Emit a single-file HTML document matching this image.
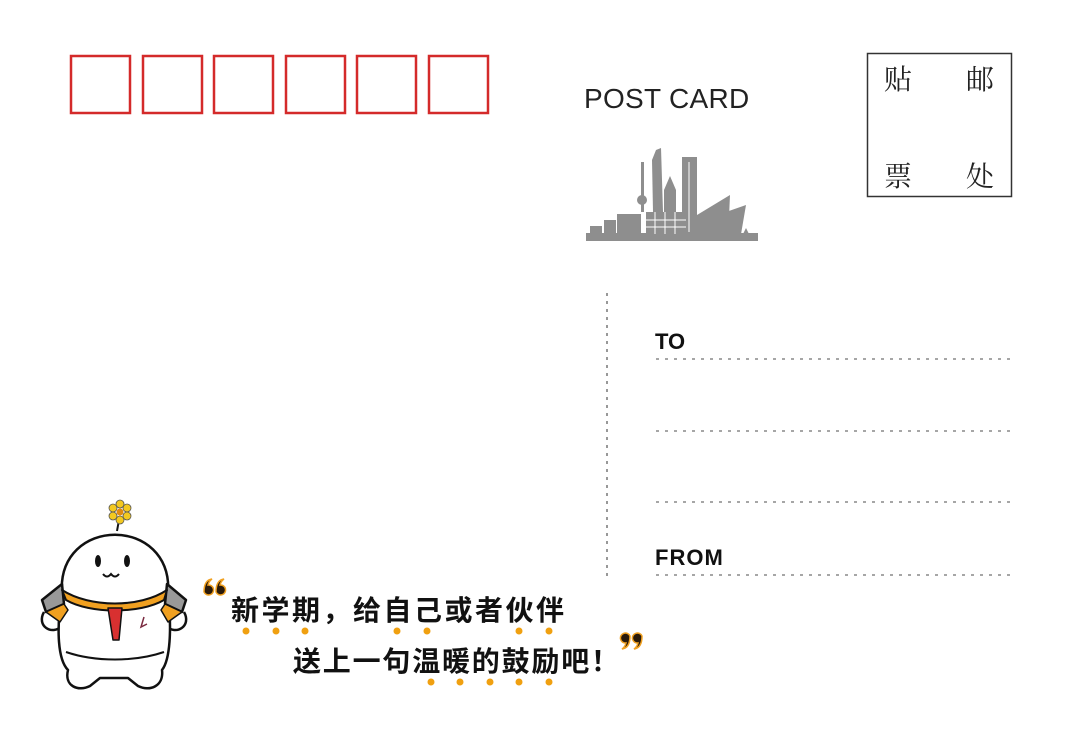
<!DOCTYPE html>
<html><head><meta charset="utf-8"><style>
html,body{margin:0;padding:0;background:#fff;width:1080px;height:730px;overflow:hidden}
</style></head><body>
<svg width="1080" height="730" viewBox="0 0 1080 730" xmlns="http://www.w3.org/2000/svg">
<rect width="1080" height="730" fill="#fff"/>
<g fill="none" stroke="#d42a2a" stroke-width="2.5">
<rect x="71" y="56" width="59" height="57"/>
<rect x="143" y="56" width="59" height="57"/>
<rect x="214" y="56" width="59" height="57"/>
<rect x="286" y="56" width="59" height="57"/>
<rect x="357" y="56" width="59" height="57"/>
<rect x="429" y="56" width="59" height="57"/>
</g>
<text x="584" y="108" font-family="Liberation Sans, sans-serif" font-size="28" letter-spacing="0.3" fill="#222">POST CARD</text>
<rect x="867.5" y="53.5" width="144" height="143" fill="none" stroke="#333" stroke-width="1.5"/>
<g font-family="Noto Serif CJK SC, serif" font-size="28" fill="#222">
<text x="884" y="89">贴</text><text x="966" y="89">邮</text>
<text x="884" y="186">票</text><text x="966" y="186">处</text>
</g>
<!-- skyline -->
<g fill="#8e8e8e">
<rect x="586" y="233" width="172" height="8"/>
<rect x="590" y="226" width="12" height="8"/>
<rect x="604" y="220" width="12" height="14"/>
<rect x="617" y="214" width="24" height="20"/>
<rect x="641" y="162" width="3" height="50"/>
<circle cx="642" cy="200" r="5"/>
<polygon points="652,160 656,150 661,148 663,212 653,212"/>
<polygon points="664,190 670,176 676,190 676,212 664,212"/>
<rect x="682" y="157" width="15" height="77"/>
<rect x="646" y="212" width="40" height="22"/>
<polygon points="697,240 697,215 730,195 728,240"/>
<polygon points="722,240 726,212 746,205 740,240"/>
<polygon points="740,240 746,228 752,240"/>
</g>
<g stroke="#fff" stroke-width="1"><line x1="646" y1="220" x2="686" y2="220"/><line x1="646" y1="227" x2="686" y2="227"/><line x1="655" y1="212" x2="655" y2="234"/><line x1="665" y1="212" x2="665" y2="234"/><line x1="675" y1="212" x2="675" y2="234"/><line x1="689" y1="162" x2="689" y2="232"/></g>
<!-- divider -->
<line x1="607" y1="293" x2="607" y2="578" stroke="#777" stroke-width="1.5" stroke-dasharray="3,5"/>
<g stroke="#888" stroke-width="1.5" stroke-dasharray="3,6">
<line x1="656" y1="359" x2="1011" y2="359"/>
<line x1="656" y1="431" x2="1011" y2="431"/>
<line x1="656" y1="502" x2="1011" y2="502"/>
<line x1="656" y1="575" x2="1011" y2="575"/>
</g>
<g font-family="Liberation Sans, sans-serif" font-weight="bold" fill="#111">
<text x="655" y="349" font-size="22">TO</text>
<text x="655" y="565" font-size="22" letter-spacing="1">FROM</text>
</g>
<!-- mascot -->
<g stroke="#111" stroke-width="2.5" stroke-linejoin="round">
<line x1="119" y1="520" x2="117" y2="531" fill="none" stroke-width="2"/>
<path d="M44,612 C36,626 52,636 62,626" fill="#fff"/>
<path d="M184,612 C192,626 176,636 166,626" fill="#fff"/>
<path d="M62,594 C56,515 174,515 168,594 C172,630 170,660 162,670 C164,686 150,692 138,686 L128,678 L100,678 L90,686 C78,692 64,686 68,670 C58,660 56,630 62,594 Z" fill="#fff"/>
<path d="M62,584 L42,600 L46,612 L64,604 Z" fill="#999"/>
<path d="M167,584 L186,600 L182,612 L165,604 Z" fill="#999"/>
<path d="M64,604 L46,612 L60,622 L68,610 Z" fill="#f0a020" stroke-width="1.5"/>
<path d="M165,604 L182,612 L168,622 L161,610 Z" fill="#f0a020" stroke-width="1.5"/>
<path d="M62,590 C90,608 140,608 167,590 L164,600 C140,614 90,614 66,600 Z" fill="#f0a020" stroke-width="2"/>
<path d="M108,608 L122,608 L119,640 L113,640 Z" fill="#d83030" stroke-width="1.5"/>
<path d="M66,652 C95,662 135,662 164,652" fill="none" stroke-width="2"/>
</g>
<path d="M144,617 l-3,10 l6,-3" fill="none" stroke="#7a2a40" stroke-width="1.5"/>
<g fill="#f3c820" stroke="#555" stroke-width="0.8">
<circle cx="120" cy="504" r="4"/><circle cx="127" cy="508" r="4"/><circle cx="127" cy="516" r="4"/><circle cx="120" cy="520" r="4"/><circle cx="113" cy="516" r="4"/><circle cx="113" cy="508" r="4"/>
</g><circle cx="120" cy="512" r="3.5" fill="#e08a10"/>
<ellipse cx="98" cy="561" rx="3" ry="6" fill="#111"/><ellipse cx="127" cy="561" rx="3" ry="6" fill="#111"/>
<path d="M103,574 q4,5 8,0 q4,5 8,0" fill="none" stroke="#111" stroke-width="2"/>
<!-- slogan quotes -->
<g fill="#2a1a0a" stroke="#f0a020" stroke-width="1.5">
<path d="M204,592 a5,5 0 1 0 4,-7 q1,-4 4,-6 q-8,1 -8,13 z"/>
<path d="M216,592 a5,5 0 1 0 4,-7 q1,-4 4,-6 q-8,1 -8,13 z"/>
<path d="M630,636 a5,5 0 1 0 -4,7 q-1,4 -4,6 q8,-1 8,-13 z"/>
<path d="M642,636 a5,5 0 1 0 -4,7 q-1,4 -4,6 q8,-1 8,-13 z"/>
</g>
<g font-family="WenQuanYi Zen Hei, Noto Sans CJK SC, sans-serif" font-weight="bold" font-size="28" fill="#111">
<text x="231" y="620" letter-spacing="2.5">新学期，给自己或者伙伴</text>
<text x="293" y="671" letter-spacing="1.8">送上一句温暖的鼓励吧！</text>
</g>
<g fill="#f0a010">
<circle cx="246" cy="631" r="3.5"/><circle cx="276" cy="631" r="3.5"/><circle cx="305" cy="631" r="3.5"/>
<circle cx="397" cy="631" r="3.5"/><circle cx="427" cy="631" r="3.5"/>
<circle cx="519" cy="631" r="3.5"/><circle cx="549" cy="631" r="3.5"/>
<circle cx="431" cy="682" r="3.5"/><circle cx="460" cy="682" r="3.5"/><circle cx="490" cy="682" r="3.5"/><circle cx="519" cy="682" r="3.5"/><circle cx="549" cy="682" r="3.5"/>
</g>
</svg>
</body></html>
